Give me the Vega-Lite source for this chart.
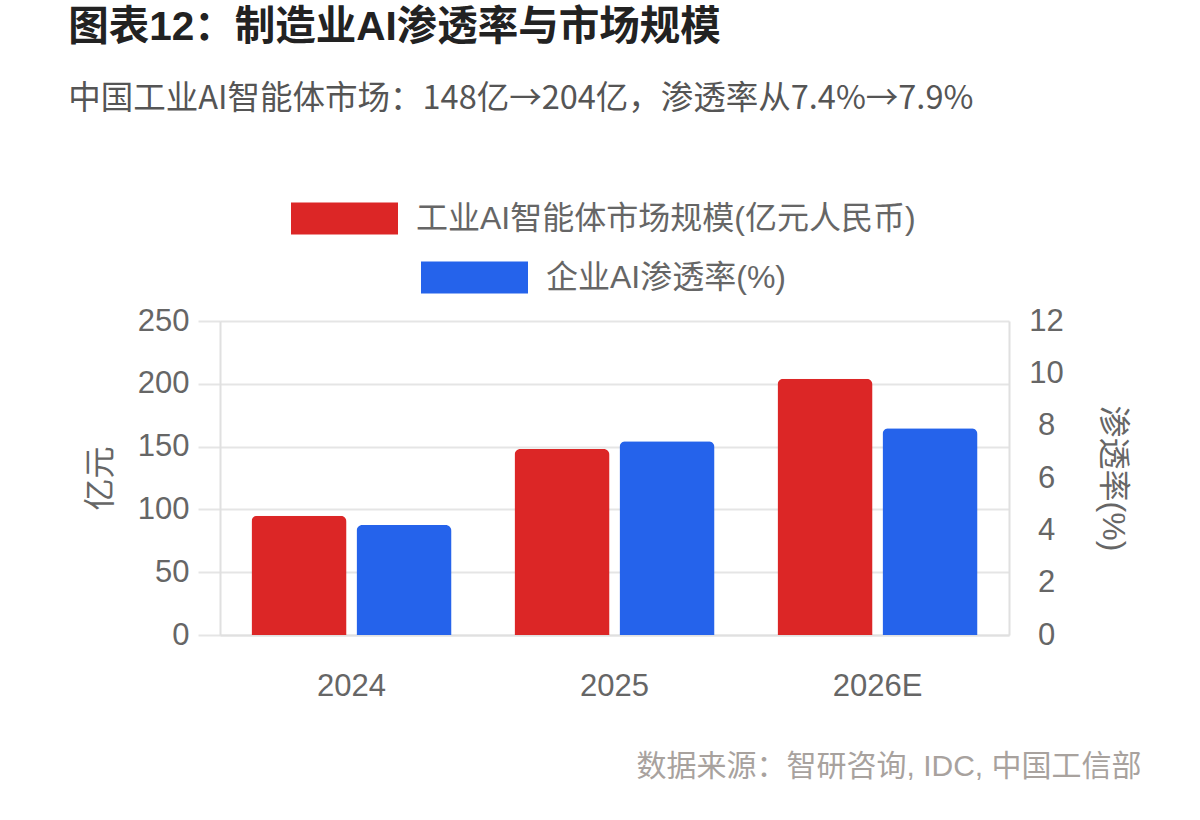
{
  "$schema": "https://vega.github.io/schema/vega-lite/v6.json",
  "description": "Manufacturing AI penetration and market size",
  "padding": {"left": 68, "top": 8, "right": 40, "bottom": 20},
  "title": {
    "text": "图表12：制造业AI渗透率与市场规模",
    "subtitle": "中国工业AI智能体市场：148亿→204亿，渗透率从7.4%→7.9%",
    "anchor": "start",
    "frame": "bounds",
    "dx": -16,
    "fontSize": 40.5,
    "fontWeight": "bold",
    "color": "#222222",
    "subtitleFont": "Noto Sans CJK SC",
    "subtitleFontSize": 32.5,
    "subtitleColor": "#555555",
    "subtitlePadding": 34,
    "offset": 50
  },
  "width": 789,
  "height": 314,
  "data": {
    "values": [
      {"year": "2024", "series": "工业AI智能体市场规模(亿元人民币)", "value": 95},
      {"year": "2025", "series": "工业AI智能体市场规模(亿元人民币)", "value": 148},
      {"year": "2026E", "series": "工业AI智能体市场规模(亿元人民币)", "value": 204},
      {"year": "2024", "series": "企业AI渗透率(%)", "value": 4.2},
      {"year": "2025", "series": "企业AI渗透率(%)", "value": 7.4},
      {"year": "2026E", "series": "企业AI渗透率(%)", "value": 7.9}
    ]
  },
  "encoding": {
    "x": {
      "field": "year",
      "type": "nominal",
      "sort": null,
      "scale": {"paddingInner": 0, "paddingOuter": 0},
      "axis": {
        "title": "数据来源：智研咨询, IDC, 中国工信部",
        "titleFontSize": 30,
        "titleFontWeight": "normal",
        "titleColor": "#a8a29e",
        "titleAnchor": "end",
        "titleAlign": "right",
        "titleBaseline": "middle",
        "titleX": 921,
        "titleY": 131,
        "labelAngle": 0,
        "labelFontSize": 31,
        "labelColor": "#666666",
        "labelPadding": 36,
        "ticks": false,
        "domainColor": "#e0e0e0",
        "domainWidth": 2
      }
    },
    "xOffset": {
      "field": "series",
      "type": "nominal",
      "scale": {
        "domain": ["工业AI智能体市场规模(亿元人民币)", "企业AI渗透率(%)"],
        "paddingInner": 0.095,
        "paddingOuter": 0.3
      }
    }
  },
  "layer": [
    {
      "transform": [{"filter": "datum.series === '工业AI智能体市场规模(亿元人民币)'"}],
      "mark": {"type": "bar", "cornerRadiusTopLeft": 6, "cornerRadiusTopRight": 6},
      "encoding": {
        "y": {
          "field": "value",
          "type": "quantitative",
          "scale": {"domain": [0, 250]},
          "axis": {
            "title": "亿元",
            "values": [0, 50, 100, 150, 200, 250],
            "titleFontSize": 32,
            "titleFontWeight": "normal",
            "titleColor": "#666666",
            "titlePadding": 20,
            "labelFontSize": 31,
            "labelColor": "#666666",
            "labelPadding": 9,
            "tickSize": 22,
            "tickColor": "#e5e5e5",
            "tickWidth": 2,
            "gridColor": "#e5e5e5",
            "gridWidth": 2,
            "domainColor": "#e0e0e0",
            "domainWidth": 2
          }
        },
        "color": {
          "field": "series",
          "type": "nominal",
          "scale": {"domain": ["工业AI智能体市场规模(亿元人民币)"], "range": ["#dc2626"]},
          "legend": {"title": null, "orient": "none", "legendX": 71, "legendY": -156}
        }
      }
    },
    {
      "transform": [{"filter": "datum.series === '企业AI渗透率(%)'"}],
      "mark": {"type": "bar", "cornerRadiusTopLeft": 6, "cornerRadiusTopRight": 6},
      "encoding": {
        "y": {
          "field": "value",
          "type": "quantitative",
          "scale": {"domain": [0, 12]},
          "axis": {
            "orient": "right",
            "title": "渗透率(%)",
            "values": [0, 2, 4, 6, 8, 10, 12],
            "grid": false,
            "titleFontSize": 32,
            "titleFontWeight": "normal",
            "titleColor": "#666666",
            "titlePadding": 32,
            "labelFontSize": 31,
            "labelColor": "#666666",
            "labelAlign": "center",
            "labelPadding": 37,
            "ticks": false,
            "tickSize": 0,
            "domainColor": "#e0e0e0",
            "domainWidth": 2
          }
        },
        "fill": {
          "field": "series",
          "type": "nominal",
          "scale": {"domain": ["企业AI渗透率(%)"], "range": ["#2563eb"]},
          "legend": {"title": null, "orient": "none", "legendX": 201, "legendY": -97}
        }
      }
    }
  ],
  "resolve": {"scale": {"y": "independent"}, "axis": {"y": "independent"}},
  "config": {
    "font": "Liberation Sans, Noto Sans CJK SC",
    "view": {"stroke": null},
    "axis": {"labelFont": "Liberation Sans, Noto Sans CJK SC", "titleFont": "Liberation Sans, Noto Sans CJK SC"},
    "legend": {
      "labelFontSize": 32,
      "labelColor": "#666666",
      "labelFont": "Liberation Sans, Noto Sans CJK SC",
      "symbolType": "M-1,-0.3H1V0.3H-1Z",
      "symbolSize": 11449,
      "symbolStrokeWidth": 0,
      "symbolOpacity": 1,
      "labelOffset": 18,
      "labelLimit": 800
    }
  }
}
